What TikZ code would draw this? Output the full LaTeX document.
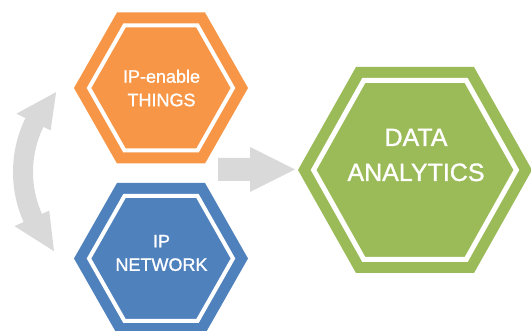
\documentclass[tikz,border=0pt]{standalone}
\usepackage{fontspec}
\setmainfont{Liberation Sans}[BoldFont={Liberation Sans}, BoldFeatures={FakeBold=1.2}]
\definecolor{horange}{HTML}{F79646}
\definecolor{hblue}{HTML}{4F81BD}
\definecolor{hgreen}{HTML}{9BBB59}
\definecolor{arrowgrey}{HTML}{D9D9D9}
\tikzset{
  smalltxt/.style={text=white, align=center, inner sep=0pt, font=\fontsize{18}{23.5}\selectfont\bfseries},
  bigtxt/.style={text=white, align=center, inner sep=0pt, font=\fontsize{25}{35}\selectfont\bfseries},
  hexrim/.style={white, line join=miter},
}
% #1 colour, #2 centre, #3 W, #4 w, #5 H, #6 inner W, #7 inner w, #8 inner H, #9 rim width
\newcommand\myhexa[9]{%
  \fill[#1, shift={#2}] (-#3,0) -- (-#4,-#5) -- (#4,-#5) -- (#3,0) -- (#4,#5) -- (-#4,#5) -- cycle;
  \draw[hexrim, line width=#9, shift={#2}] (-#6,0) -- (-#7,-#8) -- (#7,-#8) -- (#6,0) -- (#7,#8) -- (-#7,#8) -- cycle;
}
\begin{document}
\begin{tikzpicture}[x=1pt, y=-1pt]
\clip (0,0) rectangle (531,331);
\fill[white] (0,0) rectangle (531,331);
% arrows
\fill[arrowgrey] (218,158) -- (250,158) -- (250,147) -- (295,169.5) -- (250,192) -- (250,181) -- (218,181) -- cycle;
\fill[arrowgrey, shift={(136,172)}] (206:123) arc[start angle=206, end angle=156, radius=123]
  -- (156:133) -- (136:114) -- (156:95) -- (156:103)
  arc[start angle=156, end angle=206, radius=103]
  -- (206:95) -- (225:113) -- (206:133) -- cycle;
% hexagons
\myhexa{horange}{(161,88)}{87}{44}{75.5}{72}{36.5}{62.5}{4pt}
\myhexa{hblue}{(161,258.5)}{87}{44}{75.5}{72}{36.5}{62.5}{4pt}
\myhexa{hgreen}{(415,170)}{117}{59}{103}{101.4}{51.2}{89.5}{5pt}
\coordinate (things) at (161,88);
\coordinate (network) at (161,258.5);
\coordinate (data) at (415,170);
% labels
\node[smalltxt] (thingslabel) at (161.5,88) {IP-enable\\THINGS};
\node[smalltxt] (networklabel) at (161.5,253) {IP\\NETWORK};
\node[bigtxt] (datalabel) at (416,155) {DATA\\ANALYTICS};
\end{tikzpicture}
\end{document}
